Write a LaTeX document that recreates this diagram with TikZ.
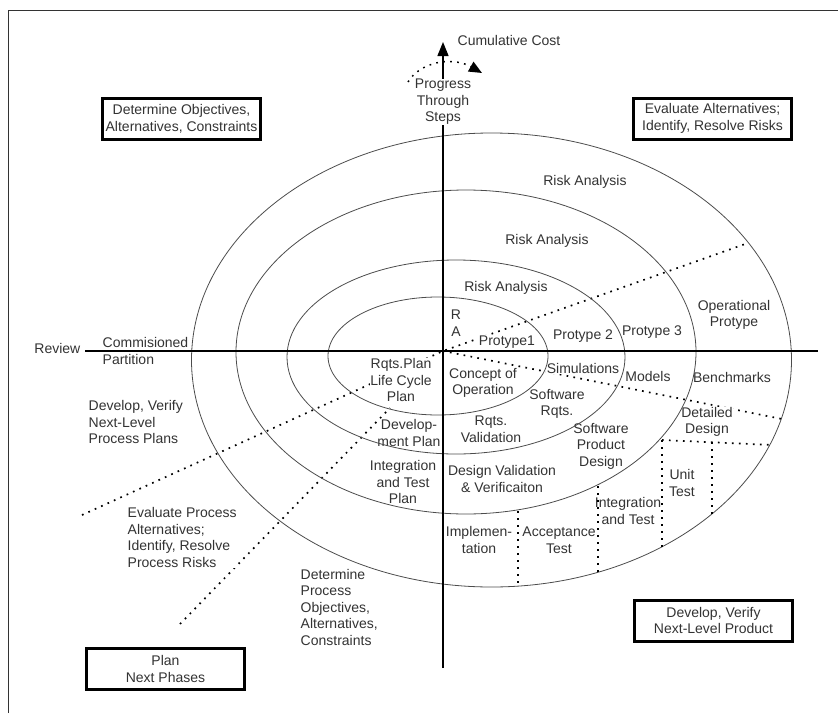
\documentclass[tikz,border=0pt]{standalone}
\usepackage{fontspec}
\setmainfont{Liberation Sans}
\usetikzlibrary{arrows.meta}
\begin{document}
\begin{tikzpicture}[x=1pt,y=-1pt,
  txt/.style={font=\fontsize{14}{16.5}\selectfont, text=black!80},
  lbl/.style={txt, align=center, fill=white, inner sep=0.5pt},
  lbll/.style={lbl, align=left},
  quad/.style={txt, draw=black, line width=3pt, minimum width=158pt, minimum height=41pt,
               align=center, fill=white, inner sep=0pt},
  ring/.style={draw=black!70, line width=0.8pt},
  axis/.style={draw=black, line width=1.4pt},
  dots/.style={draw=black, line width=1.7pt, dash pattern=on 1.7pt off 5.3pt},
  frame/.style={draw=black!80, line width=0.8pt}]
\useasboundingbox (0,0) rectangle (838,715);

% outer frame
\coordinate (fa) at (8,713);
\coordinate (fb) at (8,10);
\coordinate (fc) at (838,10);
\draw[frame] (fa) -- (fb) -- (fc);

% key points
\coordinate (O) at (443,351);
\coordinate (la) at (82,515);
\coordinate (lb) at (748,243);
\coordinate (lc) at (782,419);
\coordinate (ld0) at (180,624);
\coordinate (ld1) at (390,408);

% radial dotted lines
\draw[dots] (la) -- (O) -- (lb);
\draw[dots] (O) -- (lc);
\draw[dots] (ld0) -- (ld1);

% labels inside the spiral
\node[lbl] (ra1) at (585,182) {Risk Analysis};
\node[lbl] (ra2) at (547,241) {Risk Analysis};
\node[lbl] (ra3) at (506,288) {Risk Analysis};
\node[lbl] (ra4) at (456,323) {R\\A};
\node[lbl] (p1) at (507,342) {Protype1};
\node[lbl] (p2) at (583,336) {Protype 2};
\node[lbl] (p3) at (652,332) {Protype 3};
\node[lbl] (p4) at (734,315) {Operational\\Protype};
\node[lbl] (sim) at (583,368) {Simulations};
\node[lbl] (mod) at (648,376) {Models};
\node[lbl] (ben) at (732,377) {Benchmarks};
\node[lbl] (cop) at (483,383) {Concept of\\Operation};
\node[lbl] (srq) at (557,404) {Software\\Rqts.};
\node[lbl] (rqv) at (491,429) {Rqts.\\Validation};
\node[lbl] (spd) at (601,446) {Software\\Product\\Design};
\node[lbl] (dd) at (707,422) {Detailed\\Design};
\node[lbl] (dvv) at (502,479) {Design Validation\\\& Verificaiton};
\node[lbl] (ut) at (682,483) {Unit\\Test};
\node[lbl] (it) at (628,511) {Integration\\and Test};
\node[lbl] (at) at (559,540) {Acceptance\\Test};
\node[lbl] (imp) at (479,540) {Implemen-\\tation};
\node[lbl] (rlp) at (401,380) {Rqts.Plan\\Life Cycle\\Plan};
\node[lbl] (dp) at (409,433) {Develop-\\ment Plan};
\node[lbl] (itp) at (403,482) {Integration\\and Test\\Plan};

% labels outside the spiral
\node[lbl, anchor=east] (rev) at (81,348) {Review};
\node[lbll, anchor=west] (cp) at (102,351) {Commisioned\\Partition};
\node[lbll, anchor=west] (dvp) at (88,422) {Develop, Verify\\Next-Level\\Process Plans};
\node[lbll, anchor=west] (epa) at (127,537.5) {Evaluate Process\\Alternatives;\\Identify, Resolve\\Process Risks};
\node[lbll, anchor=west] (dpo) at (300,607) {Determine\\Process\\Objectives,\\Alternatives,\\Constraints};
\node[lbl] (cc) at (509,40) {Cumulative Cost};

% spiral rings
\draw[ring] (438,356) ellipse [x radius=110pt, y radius=59pt];
\draw[ring] (456,357) ellipse [x radius=169pt, y radius=97pt];
\draw[ring] (466,352) ellipse [x radius=230pt, y radius=162pt];
\draw[ring] (491.5,360) ellipse [x radius=300pt, y radius=227pt];

% axes
\coordinate (vb) at (443,668);
\coordinate (vt) at (443,42);
\coordinate (hl) at (85,351);
\coordinate (hr) at (818,351);
\draw[axis, -{Triangle[length=14pt,width=11pt]}] (vb) -- (vt);
\draw[axis] (hl) -- (hr);

% progress arc above the spiral
\coordinate (arcs) at (408,82);
\coordinate (arce) at (482,73);
\draw[dots, line width=1.5pt, -{Triangle[length=13pt,width=11pt]}] (arcs) .. controls (420,62) and (452,56) .. (arce);
\node[lbl] (pts) at (443,102) {Progress\\Through\\Steps};

% lower right phase cells
\coordinate (g1) at (662,440);
\coordinate (g2) at (772,445);
\coordinate (g3) at (662,547);
\coordinate (g4) at (712,442.3);
\coordinate (g5) at (712,514);
\coordinate (g6a) at (598,486);
\coordinate (g6b) at (598,572);
\coordinate (g7a) at (518,511);
\coordinate (g7b) at (518,587);
\draw[dots] (g1) -- (g2);
\draw[dots] (g1) -- (g3);
\draw[dots] (g4) -- (g5);
\draw[dots] (g6a) -- (g6b);
\draw[dots] (g7a) -- (g7b);

% quadrant boxes
\node[quad] (q1) at (181.5,119) {Determine Objectives,\\Alternatives, Constraints};
\node[quad] (q2) at (712.5,118.5) {Evaluate Alternatives;\\Identify, Resolve Risks};
\node[quad] (q3) at (165.5,669) {Plan\\Next Phases};
\node[quad] (q4) at (713.5,620.5) {Develop, Verify\\Next-Level Product};
\end{tikzpicture}
\end{document}
